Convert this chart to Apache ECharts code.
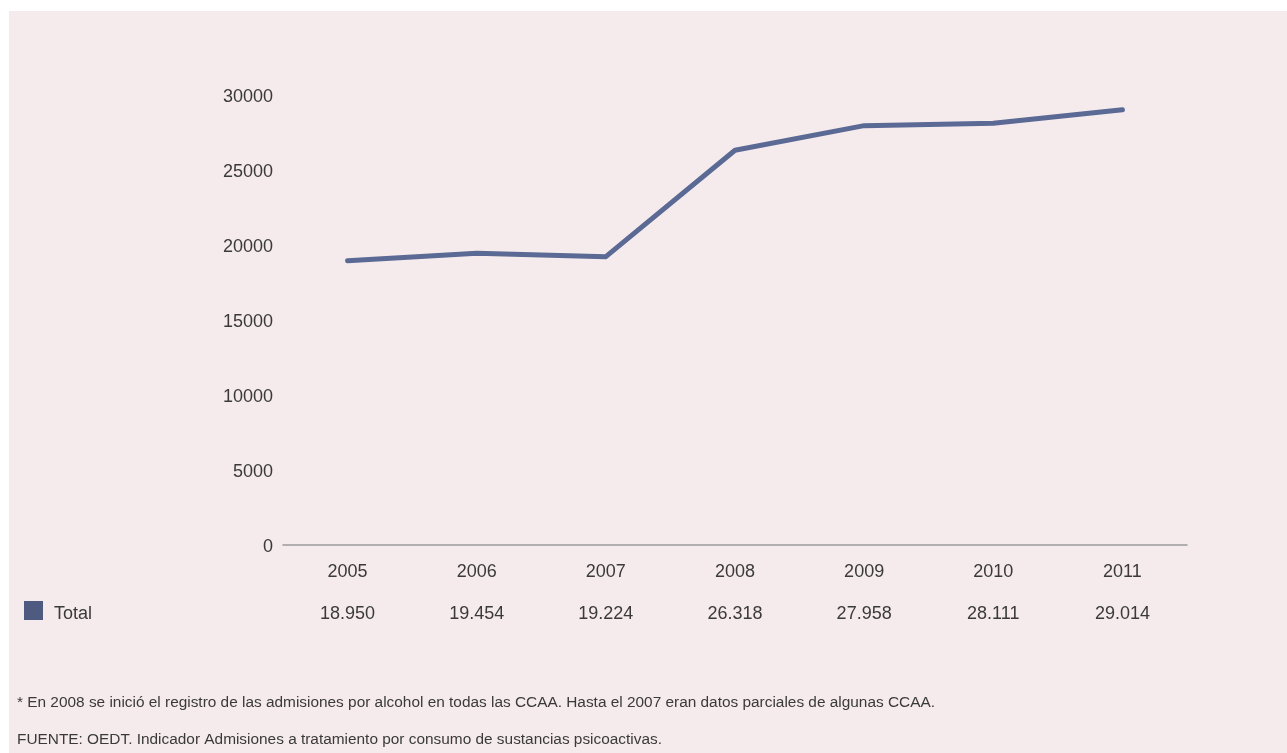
<!DOCTYPE html>
<html>
<head>
<meta charset="utf-8">
<script src="https://cdn.jsdelivr.net/npm/echarts@6/dist/echarts.min.js"></script>
<style>
html,body{margin:0;padding:0;background:#ffffff;}
#bg{position:absolute;left:9px;top:11px;width:1278px;height:742px;background:#f5ebed;}
#chart{position:absolute;left:0;top:0;width:1287px;height:753px;}
</style>
</head>
<body>
<div id="bg"></div>
<div id="chart"></div>
<script>
const categories = ['2005','2006','2007','2008','2009','2010','2011'];
const totalValues = [18950, 19454, 19224, 26318, 27958, 28111, 29014];
const seriesName = 'Total';
const footnote = '* En 2008 se inició el registro de las admisiones por alcohol en todas las CCAA. Hasta el 2007 eran datos parciales de algunas CCAA.';
const source = 'FUENTE: OEDT. Indicador Admisiones a tratamiento por consumo de sustancias psicoactivas.';

function fmtEs(v){
  return String(v).replace(/\B(?=(\d{3})+(?!\d))/g, '.');
}

const font = 'Liberation Sans, Arial, Helvetica, sans-serif';
const txt = '#3a3a3a';
const chart = echarts.init(document.getElementById('chart'));
chart.setOption({
  backgroundColor: 'transparent',
  animation: false,
  textStyle: {fontFamily: font},
  grid: {left: 283, right: 100, top: 95, bottom: 208},
  legend: {
    left: 24, top: 601, padding: 0,
    icon: 'rect', itemWidth: 19, itemHeight: 19, itemGap: 10,
    data: [{name: seriesName, itemStyle: {color: '#4e5a80'}}],
    formatter: function(n){ return '{t|' + n + '}'; },
    textStyle: {fontSize: 18, color: txt, fontFamily: font,
      rich: {t: {fontSize: 18, color: txt, fontFamily: font, padding: [7,0,0,6]}}}
  },
  xAxis: [
    {
      type: 'category', data: categories, boundaryGap: true,
      axisLine: {lineStyle: {color: '#9a9a9a', width: 1.5}},
      axisTick: {show: false},
      axisLabel: {fontSize: 18, color: txt, margin: 18, fontFamily: font}
    },
    {
      type: 'category', data: totalValues.map(fmtEs), boundaryGap: true,
      position: 'bottom', offset: 42,
      axisLine: {show: false}, axisTick: {show: false},
      axisLabel: {fontSize: 18, color: txt, margin: 18, fontFamily: font}
    }
  ],
  yAxis: {
    type: 'value', min: 0, max: 30000, interval: 5000,
    axisLine: {show: false}, axisTick: {show: false},
    splitLine: {show: false},
    axisLabel: {fontSize: 18, color: txt, margin: 10, fontFamily: font,
      formatter: function(v){ return '{t|' + v + '}'; },
      rich: {t: {fontSize: 18, color: txt, fontFamily: font, padding: [4,0,0,0]}}}
  },
  series: [{
    name: seriesName, type: 'line', data: totalValues,
    xAxisIndex: 0,
    symbol: 'none',
    lineStyle: {color: '#5b6995', width: 5, cap: 'round', join: 'round'},
    itemStyle: {color: '#5b6995'}
  }],
  graphic: [
    {type: 'text', left: 17, top: 695, style: {text: footnote, font: '15.4px ' + font, fill: txt}},
    {type: 'text', left: 17, top: 732, style: {text: source, font: '15.4px ' + font, fill: txt}}
  ]
});
</script>
</body>
</html>
